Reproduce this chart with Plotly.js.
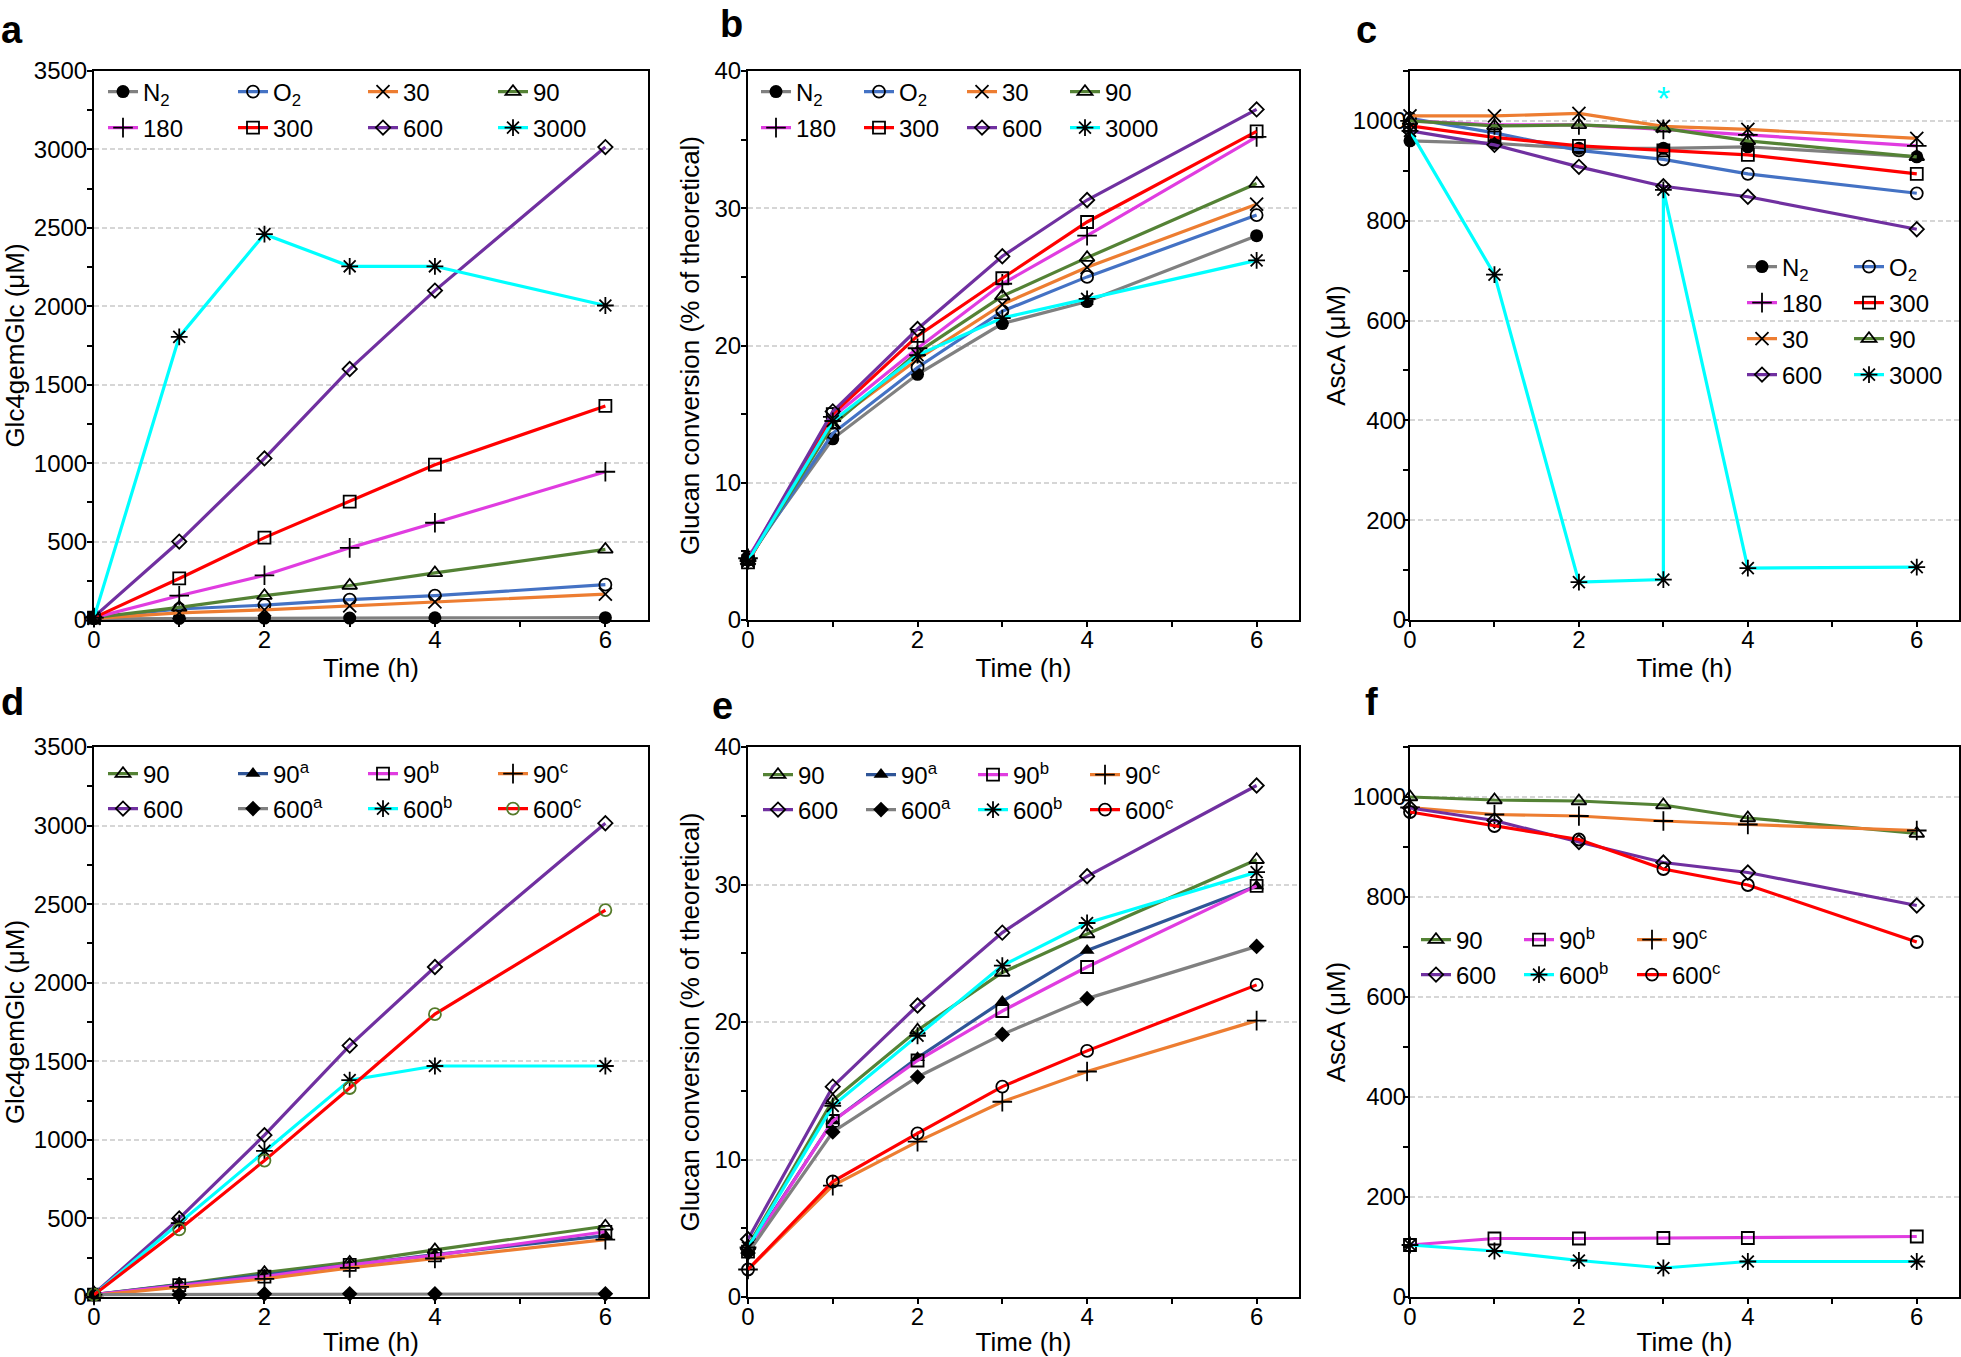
<!DOCTYPE html>
<html><head><meta charset="utf-8">
<script src="https://cdn.plot.ly/plotly-3.0.1.min.js"></script>
<style>html,body{margin:0;padding:0;background:#fff}#chart{width:1961px;height:1357px}</style>
</head><body><div id="chart"></div>
<script>
// ---------- data ----------
const hours = [0, 1, 2, 3, 4, 6];

// a: Glc4gemGlc (µM)
const glcN2   = [8, 10, 12, 12, 14, 15];
const glcO2   = [15, 70, 95, 130, 155, 225];
const glc30   = [10, 45, 65, 90, 115, 165];
const glc90   = [15, 80, 155, 220, 300, 450];
const glc180  = [15, 155, 285, 460, 620, 945];
const glc300  = [15, 265, 525, 755, 990, 1365];
const glc600  = [20, 500, 1030, 1600, 2100, 3015];
const glc3000 = [15, 1805, 2460, 2255, 2255, 2005];

// b: glucan conversion (% of theoretical)
const convN2   = [4.6, 13.2, 17.9, 21.6, 23.2, 28.0];
const convO2   = [4.4, 13.6, 18.4, 22.5, 25.0, 29.5];
const conv30   = [4.3, 14.4, 19.0, 23.0, 25.7, 30.3];
const conv90   = [4.3, 14.2, 19.5, 23.6, 26.4, 31.8];
const conv180  = [4.5, 14.8, 19.8, 24.5, 28.0, 35.2];
const conv300  = [4.2, 15.0, 20.7, 24.9, 29.0, 35.6];
const conv600  = [4.4, 15.2, 21.2, 26.5, 30.6, 37.2];
const conv3000 = [4.3, 14.5, 19.3, 22.0, 23.4, 26.2];

// c: AscA (µM)
const ascN2   = [960, 955, 945, 945, 948, 928];
const ascO2   = [1005, 976, 941, 923, 894, 855];
const asc30   = [1010, 1010, 1015, 989, 983, 965];
const asc90   = [1000, 990, 992, 985, 960, 928];
const asc180  = [1000, 992, 992, 983, 972, 950];
const asc300  = [990, 967, 950, 941, 932, 894];
const asc600  = [980, 952, 908, 869, 848, 783];
const hours3000 = [0, 1, 2, 3, 3, 4, 6];
const asc3000 = [980, 692, 76, 81, 862, 104, 106];

// d: Glc4gemGlc (µM), controls
const glc90a  = [15, 75, 140, 205, 270, 390];
const glc90b  = [15, 75, 130, 205, 265, 415];
const glc90c  = [10, 65, 115, 185, 245, 365];
const glc600a = [15, 15, 20, 20, 20, 20];
const glc600b = [15, 470, 930, 1380, 1470, 1470];
const glc600c = [15, 430, 868, 1330, 1800, 2462];

// e: glucan conversion, controls
const convE90   = [3.7, 14.3, 19.4, 23.6, 26.4, 31.8];
const convE90a  = [3.4, 12.8, 17.4, 21.5, 25.2, 29.9];
const convE90b  = [3.3, 12.8, 17.2, 20.8, 24.0, 29.9];
const convE90c  = [2.0, 8.1, 11.3, 14.2, 16.4, 20.1];
const convE600  = [4.2, 15.3, 21.2, 26.5, 30.6, 37.2];
const convE600a = [3.2, 12.0, 16.0, 19.1, 21.7, 25.5];
const convE600b = [3.6, 13.9, 19.0, 24.1, 27.2, 30.9];
const convE600c = [2.0, 8.4, 11.9, 15.3, 17.9, 22.7];

// f: AscA (µM), controls
const ascF90   = [1000, 994, 992, 984, 958, 927];
const ascF90b  = [104, 117, 117, 118, 118, 121];
const ascF90c  = [979, 965, 962, 952, 945, 933];
const ascF600  = [978, 953, 910, 869, 849, 783];
const ascF600b = [104, 92, 73, 58, 71, 71];
const ascF600c = [970, 942, 915, 856, 824, 710];

const labels = {
  N2: 'N<sub>2</sub>', O2: 'O<sub>2</sub>', '30': '30', '90': '90', '180': '180',
  '300': '300', '600': '600', '3000': '3000',
  '90a': '90<sup>a</sup>', '90b': '90<sup>b</sup>', '90c': '90<sup>c</sup>',
  '600a': '600<sup>a</sup>', '600b': '600<sup>b</sup>', '600c': '600<sup>c</sup>'
};

// ---------- styles ----------
const styles = {
  N2:   {line: '#808080', symbol: 'circle', size: 13},
  O2:   {line: '#4472C4', symbol: 'circle-open', size: 12},
  '30': {line: '#ED7D31', symbol: 'x-thin-open', size: 13},
  '90': {line: '#548235', symbol: 'triangle-up-open', size: 13},
  '180':{line: '#E03CE0', symbol: 'cross-thin-open', size: 14},
  '300':{line: '#FF0000', symbol: 'square-open', size: 12},
  '600':{line: '#7030A0', symbol: 'diamond-open', size: 11},
  '3000':{line: '#00FFFF', symbol: 'asterisk-open', size: 14},
  '90a':{line: '#2F5597', symbol: 'triangle-up', size: 13},
  '90b':{line: '#E03CE0', symbol: 'square-open', size: 12},
  '90c':{line: '#ED7D31', symbol: 'cross-thin-open', size: 14},
  '600a':{line: '#808080', symbol: 'diamond', size: 12},
  '600b':{line: '#00FFFF', symbol: 'asterisk-open', size: 14},
  '600c':{line: '#FF0000', symbol: 'circle-open', size: 12}
};

const W = 1961, H = 1357;
const FONT = 'Liberation Sans, Arial, Helvetica, sans-serif';
const colX = [[94, 648], [748, 1299], [1410, 1959]];
const rowY = [[71, 620], [747, 1297]];

const data = [];
let legendCount = 0;
const legends = {};

function newLegend(xpx, ypx) {
  legendCount += 1;
  const id = legendCount === 1 ? 'legend' : 'legend' + legendCount;
  legends[id] = {
    x: xpx / W, y: 1 - ypx / H, xanchor: 'left', yanchor: 'middle',
    orientation: 'h', bgcolor: 'rgba(0,0,0,0)', borderwidth: 0,
    font: {family: FONT, size: 24, color: '#000'}, itemclick: false, itemdoubleclick: false,
    traceorder: 'normal'
  };
  return id;
}

function addTrace(x, y, key, axNum, legendId, lwidth, mcolor) {
  const s = styles[key];
  const filled = !s.symbol.endsWith('open');
  const suf = axNum === 1 ? '' : String(axNum);
  data.push({
    type: 'scatter', mode: 'lines+markers', x: x, y: y, name: labels[key],
    xaxis: 'x' + suf, yaxis: 'y' + suf, legend: legendId, legendwidth: lwidth,
    line: {color: s.line, width: 3.2},
    marker: {symbol: s.symbol, size: s.size, color: mcolor || '#000',
             line: {color: mcolor || '#000', width: filled ? 0 : 1.8}},
    hoverinfo: 'skip', cliponaxis: false
  });
}

// panel a
let L = newLegend(103, 92);
[['N2', glcN2], ['O2', glcO2], ['30', glc30], ['90', glc90]].forEach(p => addTrace(hours, p[1], p[0], 1, L, 85));
L = newLegend(103, 128);
[['180', glc180], ['300', glc300], ['600', glc600], ['3000', glc3000]].forEach(p => addTrace(hours, p[1], p[0], 1, L, 85));

// panel b
L = newLegend(756, 92);
[['N2', convN2], ['O2', convO2], ['30', conv30], ['90', conv90]].forEach(p => addTrace(hours, p[1], p[0], 2, L, 58));
L = newLegend(756, 128);
[['180', conv180], ['300', conv300], ['600', conv600], ['3000', conv3000]].forEach(p => addTrace(hours, p[1], p[0], 2, L, 58));

// panel c
L = newLegend(1742, 267);
addTrace(hours, ascN2, 'N2', 3, L, 62); addTrace(hours, ascO2, 'O2', 3, L, 62);
L = newLegend(1742, 303);
addTrace(hours, asc180, '180', 3, L, 62); addTrace(hours, asc300, '300', 3, L, 62);
L = newLegend(1742, 339);
addTrace(hours, asc30, '30', 3, L, 62); addTrace(hours, asc90, '90', 3, L, 62);
L = newLegend(1742, 375);
addTrace(hours, asc600, '600', 3, L, 62); addTrace(hours3000, asc3000, '3000', 3, L, 62);

// panel d
L = newLegend(103, 774);
[['90', glc90], ['90a', glc90a], ['90b', glc90b], ['90c', glc90c]].forEach(p => addTrace(hours, p[1], p[0], 4, L, 85));
L = newLegend(103, 809);
addTrace(hours, glc600, '600', 4, L, 85);
addTrace(hours, glc600a, '600a', 4, L, 85);
addTrace(hours, glc600b, '600b', 4, L, 85);
addTrace(hours, glc600c, '600c', 4, L, 85, '#557a2a');

// panel e
const eW = [58, 67, 67, 67];
L = newLegend(758, 775);
[['90', convE90], ['90a', convE90a], ['90b', convE90b], ['90c', convE90c]].forEach((p, i) => addTrace(hours, p[1], p[0], 5, L, eW[i]));
L = newLegend(758, 810);
[['600', convE600], ['600a', convE600a], ['600b', convE600b], ['600c', convE600c]].forEach((p, i) => addTrace(hours, p[1], p[0], 5, L, eW[i]));

// panel f
const fW = [58, 68, 68];
L = newLegend(1416, 940);
[['90', ascF90], ['90b', ascF90b], ['90c', ascF90c]].forEach((p, i) => addTrace(hours, p[1], p[0], 6, L, fW[i]));
L = newLegend(1416, 975);
[['600', ascF600], ['600b', ascF600b], ['600c', ascF600c]].forEach((p, i) => addTrace(hours, p[1], p[0], 6, L, fW[i]));

// ---------- axes ----------
function xAxis(col, row, anchor) {
  return {
    domain: [colX[col][0] / W, colX[col][1] / W], anchor: anchor,
    range: [0, 6.5], tickmode: 'linear', tick0: 0, dtick: 2,
    ticks: 'outside', ticklen: 5, tickwidth: 2, tickcolor: '#000', ticklabelstandoff: -8,
    minor: {tickmode: 'linear', tick0: 0, dtick: 1, ticks: 'outside', ticklen: 5, tickwidth: 2, tickcolor: '#000', showgrid: false},
    showline: true, linewidth: 2, linecolor: '#000', mirror: true,
    showgrid: false, zeroline: false, fixedrange: true,
    tickfont: {family: FONT, size: 24, color: '#000'},
    title: {text: 'Time (h)', font: {family: FONT, size: 26, color: '#000'}, standoff: 7}
  };
}
function yAxis(col, row, anchor, range, dtick, title, labelOff, titleOff) {
  return {
    domain: [1 - rowY[row][1] / H, 1 - rowY[row][0] / H], anchor: anchor,
    range: range, tickmode: 'linear', tick0: 0, dtick: dtick,
    ticks: 'outside', ticklen: 5, tickwidth: 2, tickcolor: '#000', ticklabelstandoff: labelOff,
    minor: {tickmode: 'linear', tick0: 0, dtick: dtick / 2, ticks: 'outside', ticklen: 5, tickwidth: 2, tickcolor: '#000', showgrid: false},
    showline: true, linewidth: 2, linecolor: '#000', mirror: true,
    showgrid: true, gridcolor: '#d6d6d6', gridwidth: 2, griddash: '5px,3px',
    zeroline: false, fixedrange: true,
    tickfont: {family: FONT, size: 24, color: '#000'},
    title: {text: title, font: {family: FONT, size: 26, color: '#000'}, standoff: titleOff}
  };
}

const glcTitle = 'Glc4gemGlc (μM)';
const convTitle = 'Glucan conversion (% of theoretical)';
const ascTitle = 'AscA (μM)';

function letter(t, xpx, ypx) {
  return {text: '<b>' + t + '</b>', xref: 'paper', yref: 'paper', x: xpx / W, y: 1 - ypx / H,
          xanchor: 'center', yanchor: 'middle', showarrow: false,
          font: {family: FONT, size: 38, color: '#000'}};
}

const layout = Object.assign({
  width: W, height: H, margin: {l: 0, r: 0, t: 0, b: 0},
  paper_bgcolor: '#fff', plot_bgcolor: '#fff', showlegend: true, hovermode: false,
  font: {family: FONT, size: 24, color: '#000'},
  xaxis:  xAxis(0, 0, 'y'),  yaxis:  yAxis(0, 0, 'x',  [0, 3500], 500, glcTitle, -5, 7),
  xaxis2: xAxis(1, 0, 'y2'), yaxis2: yAxis(1, 0, 'x2', [0, 40], 10, convTitle, -5, 7),
  xaxis3: xAxis(2, 0, 'y3'), yaxis3: yAxis(2, 0, 'x3', [0, 1100], 200, ascTitle, -8, 0),
  xaxis4: xAxis(0, 1, 'y4'), yaxis4: yAxis(0, 1, 'x4', [0, 3500], 500, glcTitle, -5, 7),
  xaxis5: xAxis(1, 1, 'y5'), yaxis5: yAxis(1, 1, 'x5', [0, 40], 10, convTitle, -5, 7),
  xaxis6: xAxis(2, 1, 'y6'), yaxis6: yAxis(2, 1, 'x6', [0, 1100], 200, ascTitle, -8, 0),
  annotations: [
    letter('a', 12, 30), letter('b', 731, 24), letter('c', 1366, 30),
    letter('d', 12, 702), letter('e', 722, 706), letter('f', 1371, 702),
    {text: '*', xref: 'x3', yref: 'y3', x: 3, y: 1045, showarrow: false,
     xanchor: 'center', yanchor: 'middle', font: {family: FONT, size: 34, color: '#00FFFF'}}
  ]
}, legends);

Plotly.newPlot('chart', data, layout, {staticPlot: true, displayModeBar: false});
</script></body></html>
